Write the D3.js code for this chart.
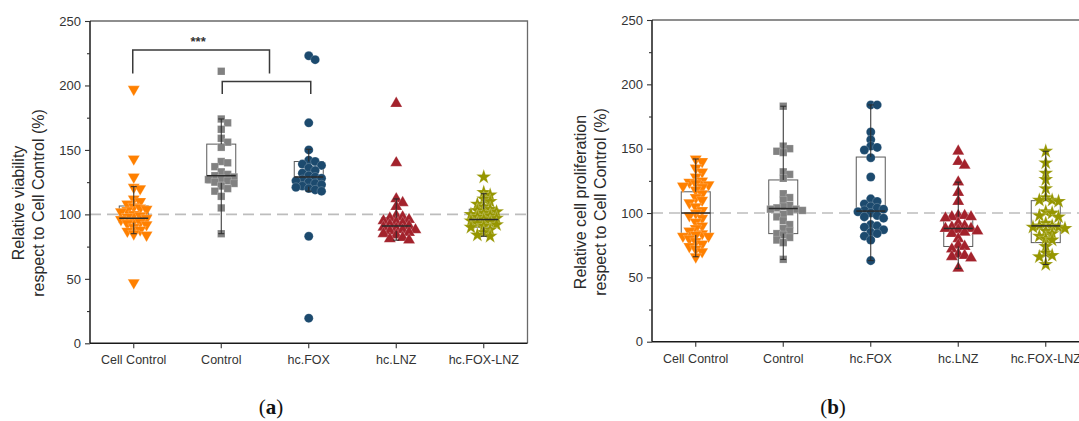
<!DOCTYPE html>
<html>
<head>
<meta charset="utf-8">
<script src="https://cdn.jsdelivr.net/npm/d3@7"></script>
<style>
  body { margin: 0; background: #fff; }
  svg { display: block; font-family: Arial, "Liberation Sans", sans-serif; }
</style>
</head>
<body>
<svg width="1079" height="421"></svg>
<script>
var categories = ["Cell Control", "Control", "hc.FOX", "hc.LNZ", "hc.FOX-LNZ"];
var yTicks = [0, 50, 100, 150, 200, 250];
var refValue = 100;

// (a) relative viability
var viaCellControl = [197, 143, 129, 121, 120, 112, 110, 108, 106, 105, 104, 103, 102, 100, 99, 98, 97, 96, 95, 94, 93, 92, 90, 88, 87, 85, 84, 47];
var viaControl = [211, 174, 171, 166, 159, 156, 152, 141, 140, 137, 133, 131, 130, 129, 128, 127, 126, 125, 124, 122, 120, 118, 114, 105, 85];
var viaFOX = [223, 220, 171, 150, 142, 141, 139, 138, 136, 134, 132, 130, 129, 128, 127, 126, 125, 124, 123, 122, 121, 120, 119, 118, 83, 19.5];
var viaLNZ = [186, 140, 112, 109, 106, 99, 98, 97, 96, 95, 94, 93, 92, 91, 90, 89, 88, 88, 87, 86, 85, 84, 82, 81, 80];
var viaFOXLNZ = [129, 117, 115, 112, 110, 108, 106, 104, 103, 102, 101, 100, 99, 98, 97, 96, 95, 94, 93, 92, 91, 90, 88, 86, 84, 83];
// whisker low, Q1, median, Q3, whisker high
var viaBoxes = [
  [85, 93.6, 97, 106.5, 121.5],
  [85, 124.5, 130, 154.5, 174],
  [118, 121.5, 129, 141, 150.5],
  [80, 87, 91, 97.5, 112],
  [83, 90, 96, 104, 116]
];

// (b) relative cell proliferation
var proCellControl = [142, 140, 135, 132, 128, 125, 124, 123, 122, 121, 120, 118, 115, 112, 110, 108, 105, 102, 100, 98, 96, 93, 90, 88, 86, 84, 83, 82, 82, 80, 78, 76, 74, 72, 70, 66];
var proControl = [183, 152, 150, 148, 147, 132, 130, 127, 115, 112, 110, 106, 105, 104, 103, 103, 102, 101, 99, 97, 94, 91, 88, 86, 84, 83, 81, 79, 77, 64];
var proFOX = [184, 184, 163, 157, 152, 151, 149, 143, 128, 111, 109, 107, 105, 104, 103, 102, 101, 100, 98, 97, 96, 91, 90, 89, 87, 85, 84, 82, 79, 63];
var proLNZ = [148, 140, 137, 124, 116, 109, 98, 98, 97, 97, 96, 92, 90, 89, 88, 88, 87, 86, 85, 84, 80, 75, 74, 72, 68, 67, 66, 65, 57];
var proFOXLNZ = [148, 139, 131, 126, 119, 112, 110, 110, 109, 101, 100, 98, 97, 92, 90, 90, 89, 89, 88, 86, 84, 82, 80, 79, 74, 69, 67, 66, 60];
var proBoxes = [
  [66, 83, 100, 116.5, 142],
  [64, 84, 103.5, 125.7, 183],
  [63, 100.3, 101.5, 143.5, 184],
  [57, 74, 88, 97, 124],
  [60, 77, 90, 109.6, 148]
];

var colors = ["#ff8000", "#818181", "#1c4a6e", "#a3222c", "#969600"];
var shapes = [d3.symbolTriangle, d3.symbolSquare, d3.symbolCircle, d3.symbolTriangle, d3.symbolStar];
var rotations = [180, 0, 0, 0, 0];
var sizes = [62, 56, 64, 62, 70];

var svg = d3.select("svg");

function swarm(values, y, minDist, step) {
  var placed = [];
  var sorted = values.slice().sort(function(a, b) { return b - a; });
  sorted.forEach(function(v) {
    var cy = y(v), off = 0;
    for (var k = 0; k < 40; k++) {
      off = (k % 2 ? 1 : -1) * Math.ceil(k / 2) * step;
      var ok = placed.every(function(p) {
        var dx = p.dx - off, dy = p.cy - cy;
        return dx * dx + dy * dy >= minDist * minDist;
      });
      if (ok) break;
    }
    placed.push({v: v, cy: cy, dx: off});
  });
  return placed;
}

function drawPanel(opt) {
  var g = svg.append("g");
  var x = d3.scaleBand().domain(categories).range([opt.left, opt.left + 437.5]);
  var y = d3.scaleLinear().domain([0, 250]).range([opt.bottom, opt.top]);
  var right = x.range()[1];
  var bw = 29;

  // frame top / right
  g.append("path")
    .attr("d", "M" + opt.left + "," + y(250) + "H" + right + "V" + y(0))
    .attr("fill", "none")
    .attr("stroke", "#6a6a6a")
    .attr("stroke-width", 1.3);

  // reference line
  g.append("line")
    .attr("x1", opt.left).attr("x2", right)
    .attr("y1", y(refValue)).attr("y2", y(refValue))
    .attr("stroke", "#bdbdbd")
    .attr("stroke-width", 1.6)
    .attr("stroke-dasharray", "11,6");

  var groups = g.selectAll("g.grp")
    .data(categories)
    .enter().append("g")
      .attr("class", "grp")
      .attr("transform", function(d) { return "translate(" + (x(d) + x.bandwidth() / 2) + ",0)"; });

  // box
  groups.append("rect")
    .attr("x", -bw / 2)
    .attr("width", bw)
    .attr("y", function(d, i) { return y(opt.boxes[i][3]); })
    .attr("height", function(d, i) { return y(opt.boxes[i][1]) - y(opt.boxes[i][3]); })
    .attr("fill", "none")
    .attr("stroke", "#5a5a5a")
    .attr("stroke-width", 1);

  // points
  groups.each(function(d, i) {
    var pts = swarm(opt.values[i], y, 6.2, 3.2);
    d3.select(this).selectAll("path.pt")
      .data(pts)
      .enter().append("path")
        .attr("class", "pt")
        .attr("d", d3.symbol(shapes[i]).size(sizes[i]))
        .attr("transform", function(p) {
          return "translate(" + p.dx + "," + p.cy + ") rotate(" + rotations[i] + ")";
        })
        .attr("fill", colors[i])
        .attr("stroke", "#fff")
        .attr("stroke-opacity", 0.5)
        .attr("stroke-width", 0.4);
  });

  // whiskers
  groups.append("path")
    .attr("d", function(d, i) {
      var b = opt.boxes[i];
      return "M0," + y(b[4]) + "V" + y(b[3]) + "M0," + y(b[1]) + "V" + y(b[0]) +
        "M-3," + y(b[4]) + "H3M-3," + y(b[0]) + "H3";
    })
    .attr("fill", "none")
    .attr("stroke", "#2a2a2a")
    .attr("stroke-width", 1);

  // median
  groups.append("line")
    .attr("x1", -bw / 2).attr("x2", bw / 2)
    .attr("y1", function(d, i) { return y(opt.boxes[i][2]); })
    .attr("y2", function(d, i) { return y(opt.boxes[i][2]); })
    .attr("stroke", "#2a2a2a")
    .attr("stroke-width", 1.5);

  // axes
  var yAxis = g.append("g")
    .attr("transform", "translate(" + opt.left + ",0)")
    .call(d3.axisLeft(y).tickValues(yTicks).tickSize(5).tickPadding(4).tickSizeOuter(0));
  g.append("g")
    .attr("transform", "translate(" + opt.left + ",0)")
    .call(d3.axisLeft(y).tickValues([25, 75, 125, 175, 225]).tickSize(3).tickFormat("").tickSizeOuter(0))
    .select(".domain").remove();
  var xAxis = g.append("g")
    .attr("transform", "translate(0," + opt.bottom + ")")
    .call(d3.axisBottom(x).tickSize(5).tickPadding(7).tickSizeOuter(0));

  g.selectAll(".domain").attr("stroke", "#1a1a1a").attr("stroke-width", 1.5);
  g.selectAll(".tick line").attr("stroke", "#333").attr("stroke-width", 1.1);
  yAxis.selectAll("text").attr("font-size", 13).attr("fill", "#333");
  xAxis.selectAll("text").attr("font-size", 12.5).attr("fill", "#333");
  yAxis.select(".domain").attr("d", "M0," + y(0) + "V" + y(250));
  xAxis.select(".domain").attr("d", "M" + opt.left + ",0H" + right);

  // y title
  opt.title.forEach(function(t, k) {
    g.append("text")
      .attr("transform", "translate(" + (opt.left - 72 + k * 20) + "," + opt.titleY + ") rotate(-90)")
      .attr("text-anchor", "middle")
      .attr("dy", "0.35em")
      .attr("font-size", 16)
      .attr("fill", "#2a2a2a")
      .text(t);
  });

  // caption
  var cap = g.append("text")
    .attr("x", opt.captionX)
    .attr("y", 414)
    .attr("text-anchor", "middle")
    .attr("font-family", "'Liberation Serif', 'Times New Roman', serif")
    .attr("font-size", 21)
    .attr("fill", "#111");
  cap.append("tspan").text("(");
  cap.append("tspan").attr("font-weight", "bold").text(opt.caption);
  cap.append("tspan").text(")");

  return {x: x, y: y, g: g};
}

var pa = drawPanel({
  left: 90, top: 21, bottom: 343.3,
  values: [viaCellControl, viaControl, viaFOX, viaLNZ, viaFOXLNZ],
  boxes: viaBoxes,
  title: ["Relative viability", "respect to Cell Control (%)"],
  titleY: 203,
  caption: "a", captionX: 271
});

drawPanel({
  left: 652, top: 20, bottom: 341.7,
  values: [proCellControl, proControl, proFOX, proLNZ, proFOXLNZ],
  boxes: proBoxes,
  title: ["Relative cell proliferation", "respect to Cell Control (%)"],
  titleY: 202,
  caption: "b", captionX: 833
});

// significance brackets on panel (a)
var cx = function(c) { return pa.x(c) + pa.x.bandwidth() / 2; };
var lowL = cx("Control") + 1, lowR = cx("hc.FOX") + 2;
var upL = cx("Cell Control") - 1, upR = (lowL + lowR) / 2 + 3;
pa.g.append("path")
  .attr("d",
    "M" + lowL + "," + pa.y(193.4) + "V" + pa.y(203) + "H" + lowR + "V" + pa.y(193.4) +
    "M" + upL + "," + pa.y(209.3) + "V" + pa.y(227.5) + "H" + upR + "V" + pa.y(209.3))
  .attr("fill", "none")
  .attr("stroke", "#3a3a3a")
  .attr("stroke-width", 1.5);
pa.g.append("text")
  .attr("x", (upL + upR) / 2 - 3)
  .attr("y", pa.y(230.5))
  .attr("text-anchor", "middle")
  .attr("font-size", 13)
  .attr("font-weight", "bold")
  .attr("fill", "#333")
  .text("***");
</script>
</body>
</html>
